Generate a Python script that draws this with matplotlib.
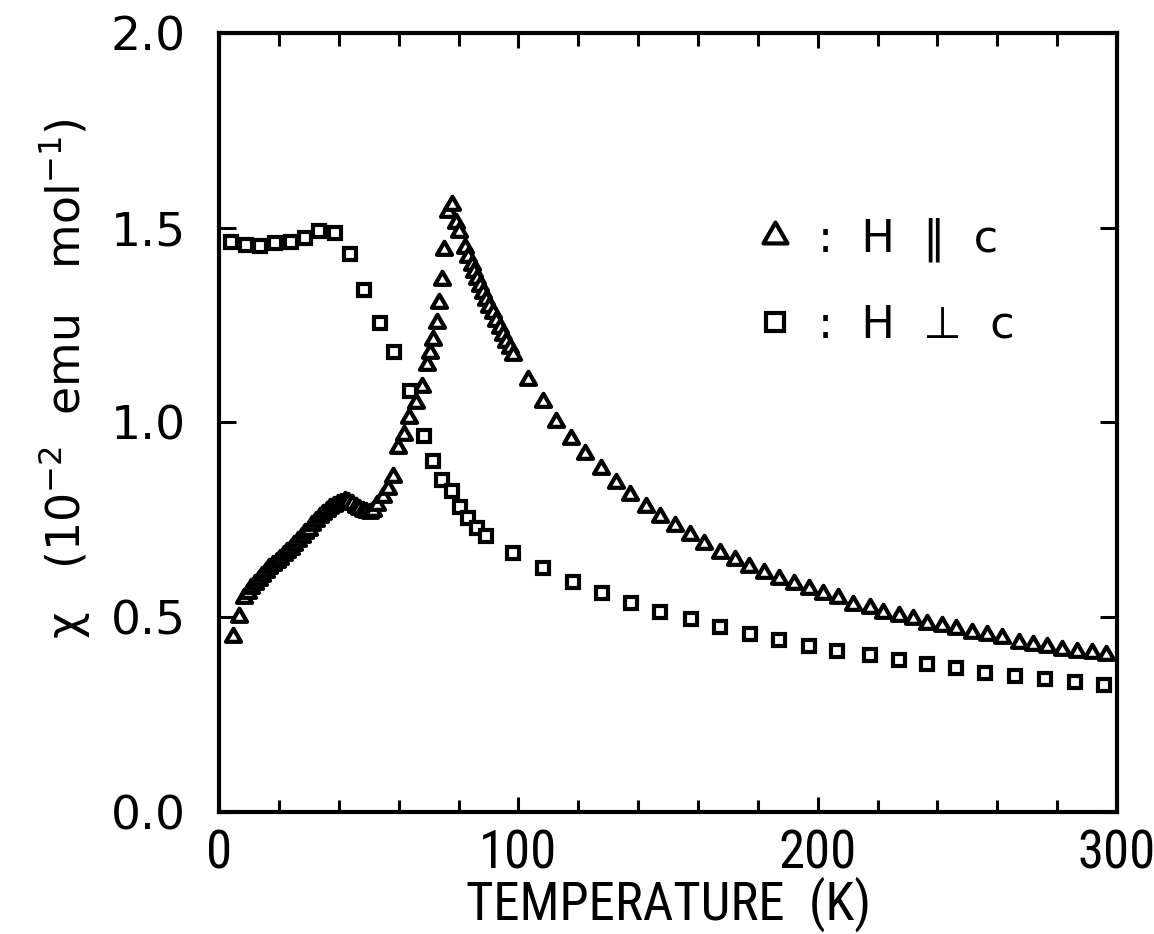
import matplotlib
matplotlib.use("Agg")
import matplotlib.pyplot as plt
from matplotlib import font_manager
from matplotlib.path import Path
from matplotlib.ticker import MultipleLocator

# Susceptibility vs temperature, H parallel to c (triangles)
T_par = [4.7, 6.6, 8.4, 9.6, 10.8, 12.0, 13.2, 14.4, 15.6, 16.8, 18.0, 19.2,
         20.4, 21.6, 22.8, 24.0, 25.2, 26.4, 27.6, 28.8, 30.0, 31.2, 32.4,
         33.6, 34.8, 36.0, 37.2, 38.4, 39.6, 40.8, 42.0, 43.2, 44.4, 45.6,
         46.8, 48.0, 49.2, 50.4, 51.4, 52.9, 54.8, 56.5, 58.1, 59.9, 61.8,
         63.6, 65.8, 67.7, 69.4, 70.5, 71.6, 72.7, 73.6, 74.4, 75.3, 76.6,
         77.7, 79.2, 80.3, 82.2, 83.3, 84.4, 85.2, 86.3, 87.2, 88.3, 89.2,
         90.3, 91.4, 92.5, 93.7, 94.8, 95.9, 97.2, 98.3, 103.1, 108.1, 112.6,
         117.5, 122.3, 127.5, 132.6, 137.3, 142.7, 147.3, 152.4, 157.4, 162.1,
         167.2, 172.2, 177.2, 182.1, 187.2, 192.2, 197.2, 201.9, 206.9, 211.9,
         217.3, 221.7, 227.0, 231.8, 236.4, 241.5, 246.2, 251.5, 256.5, 261.5,
         267.1, 271.9, 276.7, 281.6, 286.6, 291.6, 296.4]
chi_par = [0.448, 0.500, 0.549, 0.562, 0.574, 0.585, 0.595, 0.606, 0.616,
           0.625, 0.634, 0.642, 0.650, 0.659, 0.667, 0.676, 0.685, 0.695,
           0.705, 0.715, 0.725, 0.736, 0.747, 0.757, 0.765, 0.773, 0.779,
           0.785, 0.790, 0.794, 0.797, 0.796, 0.790, 0.784, 0.778, 0.773,
           0.770, 0.768, 0.772, 0.788, 0.809, 0.828, 0.859, 0.933, 0.968,
           1.010, 1.049, 1.092, 1.147, 1.177, 1.211, 1.254, 1.306, 1.366,
           1.443, 1.541, 1.558, 1.511, 1.489, 1.447, 1.425, 1.404, 1.387,
           1.367, 1.350, 1.331, 1.314, 1.297, 1.280, 1.261, 1.242, 1.224,
           1.207, 1.190, 1.173, 1.109, 1.053, 1.002, 0.957, 0.919, 0.880,
           0.845, 0.814, 0.784, 0.758, 0.734, 0.711, 0.688, 0.666, 0.647,
           0.628, 0.614, 0.597, 0.585, 0.572, 0.560, 0.548, 0.531, 0.523,
           0.512, 0.503, 0.495, 0.483, 0.477, 0.469, 0.459, 0.454, 0.446,
           0.435, 0.429, 0.424, 0.416, 0.411, 0.407, 0.403]

# Susceptibility vs temperature, H perpendicular to c (squares)
T_perp = [3.9, 9.1, 13.8, 18.8, 24.0, 28.8, 33.3, 38.7, 43.8, 48.4, 53.7,
          58.4, 63.8, 68.6, 71.5, 74.4, 77.7, 80.5, 83.3, 86.3, 89.2, 98.3,
          108.1, 118.2, 127.9, 137.6, 147.3, 157.6, 167.2, 177.4, 187.2,
          197.2, 206.6, 217.3, 227.0, 236.6, 246.2, 255.9, 266.0, 276.0,
          285.8, 295.7]
chi_perp = [1.462, 1.454, 1.453, 1.461, 1.462, 1.472, 1.491, 1.485, 1.431,
            1.340, 1.256, 1.180, 1.081, 0.964, 0.901, 0.852, 0.825, 0.782,
            0.754, 0.730, 0.708, 0.666, 0.625, 0.591, 0.563, 0.537, 0.514,
            0.495, 0.476, 0.457, 0.441, 0.427, 0.414, 0.403, 0.390, 0.379,
            0.370, 0.358, 0.350, 0.341, 0.334, 0.326]

x_ticks = [0, 100, 200, 300]
y_ticks = [0.0, 0.5, 1.0, 1.5, 2.0]
y_ticklabels = ["0.0", "0.5", "1.0", "1.5", "2.0"]

label_par = ":  H  \u2016  c"
label_perp = ":  H  \u22a5  c"


def first_font(names, fallback="DejaVu Sans"):
    avail = {f.name for f in font_manager.fontManager.ttflist}
    for n in names:
        if n in avail:
            return n
    return fallback


narrow = first_font(["Liberation Sans Narrow", "DejaVu Sans Condensed",
                     "Roboto Condensed", "Liberation Sans"])
wide = "DejaVu Sans"

plt.rcParams["font.family"] = [wide]
plt.rcParams["mathtext.default"] = "regular"

# equilateral open triangle marker
tri = Path([(0.0, 1.0), (-0.866, -0.5), (0.866, -0.5), (0.0, 1.0)],
           [Path.MOVETO, Path.LINETO, Path.LINETO, Path.CLOSEPOLY])

fig = plt.figure(figsize=(11.54, 9.34), dpi=100)
ax = fig.add_axes([0.1898, 0.1306, 0.7782, 0.8344])

l_par, = ax.plot(T_par, chi_par, linestyle="none", marker=tri,
                 markersize=12.5, markerfacecolor="white",
                 markeredgecolor="black", markeredgewidth=3.0)
l_perp, = ax.plot(T_perp, chi_perp, linestyle="none", marker="s",
                  markersize=8, markerfacecolor="white",
                  markeredgecolor="black", markeredgewidth=3.0)

ax.set_xlim(0, 300)
ax.set_ylim(0, 2.0)

ax.set_xticks(x_ticks)
ax.xaxis.set_minor_locator(MultipleLocator(20))
ax.set_yticks(y_ticks)
ax.set_yticklabels(y_ticklabels)

for s in ax.spines.values():
    s.set_linewidth(3)

ax.tick_params(axis="both", which="both", direction="in", top=True,
               right=True, width=2.2, color="black")
ax.tick_params(axis="x", which="major", length=11, pad=12)
ax.tick_params(axis="x", which="minor", length=9)
ax.tick_params(axis="y", which="major", length=12, pad=24)

for lab in ax.get_xticklabels():
    lab.set_fontfamily([narrow, "DejaVu Sans"])
    lab.set_fontsize(38)
for lab in ax.get_yticklabels():
    lab.set_fontsize(34)

ax.set_xlabel("TEMPERATURE  (K)", fontsize=38,
              fontfamily=[narrow, "DejaVu Sans"])
ax.xaxis.set_label_coords(0.5, -0.082)
ax.set_ylabel("\u03c7   (10$^{-2}$  emu   mol$^{-1}$)", fontsize=33)
ax.yaxis.set_label_coords(-0.142, 0.556)

leg = ax.legend([l_par, l_perp], [label_par, label_perp],
                loc="upper left", bbox_to_anchor=(0.575, 0.786),
                frameon=False, fontsize=32, markerscale=1.6,
                handlelength=1.0, handletextpad=0.45, labelspacing=0.95,
                borderaxespad=0.0)

fig.savefig("out.png", dpi=100, facecolor="white")
